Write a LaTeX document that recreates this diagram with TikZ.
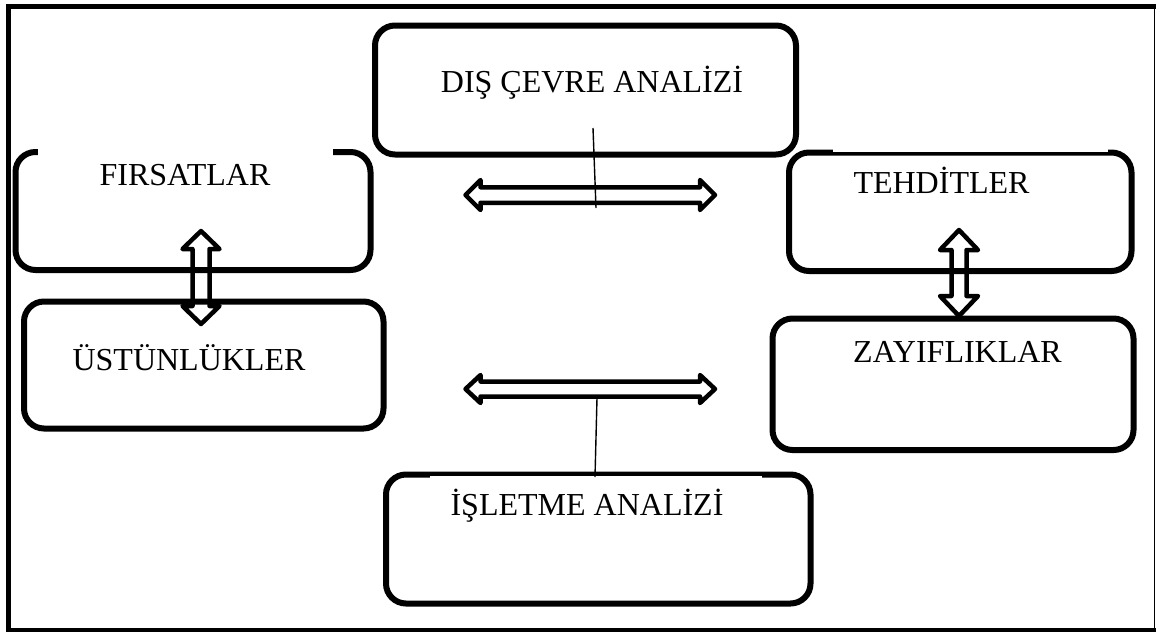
\documentclass[tikz,border=0pt]{standalone}
\usepackage{fontspec}
\setmainfont{Liberation Serif}
\usetikzlibrary{calc}
% horizontal double block arrow: x1 x2 y halfshaft halfhead headlength
\newcommand\dblharrow[6]{%
  \draw[dbl] (#1,#3) -- ({#1+#6},{#3-#5}) -- ({#1+#6},{#3-#4}) -- ({#2-#6},{#3-#4})
    -- ({#2-#6},{#3-#5}) -- (#2,#3) -- ({#2-#6},{#3+#5}) -- ({#2-#6},{#3+#4})
    -- ({#1+#6},{#3+#4}) -- ({#1+#6},{#3+#5}) -- cycle;}
% vertical double block arrow: y1 y2 x halfshaft halfhead headlength
\newcommand\dblvarrow[6]{%
  \draw[dbl] (#3,#1) -- ({#3-#5},{#1+#6}) -- ({#3-#4},{#1+#6}) -- ({#3-#4},{#2-#6})
    -- ({#3-#5},{#2-#6}) -- (#3,#2) -- ({#3+#5},{#2-#6}) -- ({#3+#4},{#2-#6})
    -- ({#3+#4},{#1+#6}) -- ({#3+#5},{#1+#6}) -- cycle;}
\begin{document}
\begin{tikzpicture}[x=1pt,y=-1pt,
  box/.style={draw, line width=6pt, rounded corners=20pt, inner sep=0pt, rectangle},
  lbl/.style={anchor=base, inner sep=0pt, font=\fontsize{32}{38}\selectfont},
  dbl/.style={draw, line width=4.5pt, line join=round},
  thinline/.style={draw, line width=1.4pt}]
\useasboundingbox (0,0) rectangle (1156,633);

% outer frame
\draw[line width=5pt] (8.5,4) -- (8.5,632);
\draw[line width=5pt] (6,6.5) -- (1156,6.5);
\draw[line width=1.5pt] (1154.5,4) -- (1154.5,632);
\draw[line width=4pt] (6,630) -- (1156,630);

% boxes
\node[box, minimum width=355pt, minimum height=118pt] (firsat) at (193,211) {};
\node[box, minimum width=421pt, minimum height=129pt] (dis) at (585.5,90) {};
\node[box, minimum width=342.5pt, minimum height=118.5pt] (tehdit) at (960.25,211.75) {};
\node[box, minimum width=361pt, minimum height=131.5pt] (zayif) at (953,384.25) {};
\node[box, minimum width=359.5pt, minimum height=127pt] (ustun) at (203.75,365) {};
\node[box, minimum width=424.5pt, minimum height=129pt] (isletme) at (598.25,539) {};

% white text backgrounds cutting the borders
\fill[white] (38,145) rectangle (333,158.5);
\fill[white] (833,148) rectangle (1108,151.5);
\fill[white] (430,475.5) rectangle (762,479);

% double arrows
\dblharrow{465.5}{715}{195}{7.75}{15}{15}
\dblharrow{465.5}{715}{389}{7.5}{14}{15}
\dblvarrow{231}{324}{201}{8.5}{18.5}{18}
\dblvarrow{230}{316}{959}{7.5}{19}{20}

% thin vertical lines
\coordinate (v1a) at (593,128);
\coordinate (v1b) at (596,208);
\coordinate (v2a) at (597,398);
\coordinate (v2b) at (595,477);
\draw[thinline] (v1a) -- (v1b);
\draw[thinline] (v2a) -- (v2b);

% texts
\node[lbl] (tdis) at (592,92) {DIŞ ÇEVRE ANALİZİ};
\node[lbl] (tfir) at (185,185) {FIRSATLAR};
\node[lbl] (tteh) at (941.5,193) {TEHDİTLER};
\node[lbl] (tzay) at (957.5,362) {ZAYIFLIKLAR};
\node[lbl] (tust) at (189,370) {ÜSTÜNLÜKLER};
\node[lbl] (tisl) at (587,515) {İŞLETME ANALİZİ};
\end{tikzpicture}
\end{document}
